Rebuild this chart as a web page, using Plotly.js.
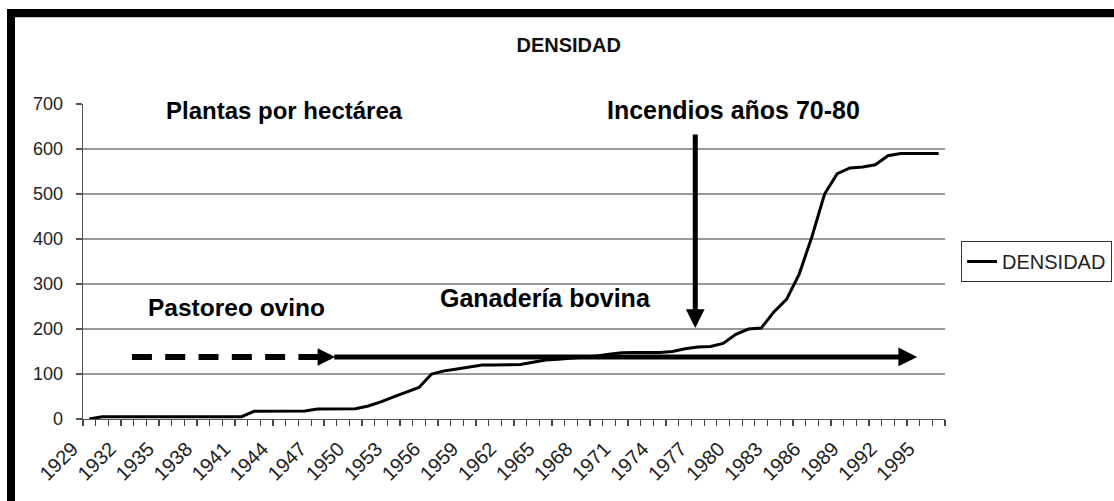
<!DOCTYPE html>
<html>
<head>
<meta charset="utf-8">
<script src="https://cdn.plot.ly/plotly-3.0.1.min.js"></script>
<style>
  html, body { margin: 0; padding: 0; background: #fff; }
  #wrap { position: relative; width: 1114px; height: 501px; overflow: hidden; }
  #chart { position: absolute; left: 0; top: 0; width: 1114px; height: 501px; }
  .band { position: absolute; background: #000; }
</style>
</head>
<body>
<div id="wrap">
  <div id="chart"></div>
  <div class="band" style="left:7px; top:9px; width:1107px; height:8px;"></div>
  <div class="band" style="left:7px; top:9px; width:8px; height:492px;"></div>
  <div style="position:absolute; left:15px; top:17px; width:1099px; height:1px; background:#ccc;"></div>
</div>
<script>
// ---- data ----
const years = [
  1929,1930,1931,1932,1933,1934,1935,1936,1937,1938,
  1939,1940,1941,1942,1943,1944,1945,1946,1947,1948,
  1949,1950,1951,1952,1953,1954,1955,1956,1957,1958,
  1959,1960,1961,1962,1963,1964,1965,1966,1967,1968,
  1969,1970,1971,1972,1973,1974,1975,1976,1977,1978,
  1979,1980,1981,1982,1983,1984,1985,1986,1987,1988,
  1989,1990,1991,1992,1993,1994,1995,1996
];
const densidad = [
  0,5,5,5,5,5,5,5,5,5,
  5,5,5,17,17,17,18,18,22,22,
  22,23,29,38,49,60,70,100,107,111,
  115,120,120,120,121,126,131,133,135,137,
  140,144,147,148,148,148,150,156,160,161,
  168,188,200,202,238,266,322,405,500,545,
  558,560,565,585,590,590,590,590
];
const seriesName = 'DENSIDAD';
const chartTitle = 'DENSIDAD';
const yTicks = [0,100,200,300,400,500,600,700];
const gridValues = [100,200,300,400,500,600];
const labels = {
  plantas: 'Plantas por hectárea',
  incendios: 'Incendios años 70-80',
  pastoreo: 'Pastoreo ovino',
  ganaderia: 'Ganadería bovina'
};

const FONT = '"Liberation Sans", Arial, sans-serif';

const trace = {
  type: 'scatter',
  mode: 'lines',
  x: years,
  y: densidad,
  name: seriesName,
  line: { color: '#000', width: 3 },
  hoverinfo: 'x+y'
};

const gridShapes = gridValues.map(v => ({
  type: 'line', xref: 'paper', yref: 'y',
  x0: 0, x1: 1, y0: v, y1: v,
  line: { color: '#777', width: 1.3 },
  layer: 'below'
}));

function boldText(t, size) {
  return { text: '<b>' + t + '</b>', showarrow: false,
           font: { family: FONT, size: size, color: '#000' } };
}

const layout = {
  width: 1114,
  height: 501,
  margin: { l: 83, r: 169, t: 104, b: 82, pad: 0, autoexpand: false },
  paper_bgcolor: 'rgba(0,0,0,0)',
  plot_bgcolor: '#fff',
  font: { family: FONT, color: '#111' },
  title: {
    text: '<b>' + chartTitle + '</b>',
    font: { family: FONT, size: 20, color: '#111' },
    xref: 'container', x: 0.5105, xanchor: 'center',
    yref: 'container', y: 0.91, yanchor: 'middle'
  },
  showlegend: true,
  legend: {
    x: 1.0186, xanchor: 'left',
    y: 0.5, yanchor: 'middle',
    bordercolor: '#333', borderwidth: 1,
    bgcolor: '#fff',
    font: { family: FONT, size: 20, color: '#222' }
  },
  xaxis: {
    type: 'linear',
    range: [1928.5, 1996.5],
    tickmode: 'linear', tick0: 1929, dtick: 3,
    ticks: '',
    tickangle: -45,
    ticklabelstandoff: 9,
    ticklabelshift: -17,
    tickfont: { family: FONT, size: 20, color: '#222' },
    showline: true, linecolor: '#555', linewidth: 1.3,
    showgrid: false, zeroline: false,
    minor: {
      tickmode: 'linear', tick0: 1928.5, dtick: 1,
      ticks: 'outside', ticklen: 6, tickcolor: '#444', tickwidth: 1.3,
      showgrid: false
    },
    fixedrange: true
  },
  yaxis: {
    range: [0, 700],
    tickmode: 'array', tickvals: yTicks,
    ticks: 'outside', ticklen: 6, tickcolor: '#555', tickwidth: 1.3,
    ticklabelstandoff: 9,
    tickfont: { family: FONT, size: 18, color: '#222' },
    showline: true, linecolor: '#555', linewidth: 1.3,
    showgrid: false, zeroline: false,
    fixedrange: true
  },
  shapes: gridShapes.concat([
    { type: 'line', xref: 'x', yref: 'y',
      x0: 1932.36, x1: 1947.3, y0: 138, y1: 138,
      line: { color: '#000', width: 6, dash: '20px,13.3px' } }
  ]),
  annotations: [
    Object.assign({ xref: 'paper', yref: 'paper', x: 0.2343, y: 0.9797, xanchor: 'center', yanchor: 'middle' }, boldText(labels.plantas, 24)),
    Object.assign({ xref: 'paper', yref: 'paper', x: 0.7552, y: 0.9797, xanchor: 'center', yanchor: 'middle' }, boldText(labels.incendios, 25)),
    Object.assign({ xref: 'paper', yref: 'paper', x: 0.1775, y: 0.3551, xanchor: 'center', yanchor: 'middle' }, boldText(labels.pastoreo, 24.5)),
    Object.assign({ xref: 'paper', yref: 'paper', x: 0.536, y: 0.3836, xanchor: 'center', yanchor: 'middle' }, boldText(labels.ganaderia, 25)),
    // vertical arrow (Incendios)
    { xref: 'x', yref: 'y', axref: 'x', ayref: 'y',
      x: 1976.8, y: 202, ax: 1976.8, ay: 635.6,
      text: '', showarrow: true, arrowhead: 2, arrowsize: 0.75, arrowwidth: 5, arrowcolor: '#000', standoff: 0 },
    // horizontal solid arrow (Ganadería bovina)
    { xref: 'x', yref: 'y', axref: 'x', ayref: 'y',
      x: 1994.3, y: 138, ax: 1948.2, ay: 138,
      text: '', showarrow: true, arrowhead: 2, arrowsize: 0.75, arrowwidth: 5, arrowcolor: '#000', standoff: 0 },
    // head of dashed arrow (Pastoreo ovino)
    { xref: 'x', yref: 'y', axref: 'x', ayref: 'y',
      x: 1948.39, y: 138, ax: 1946.9, ay: 138,
      text: '', showarrow: true, arrowhead: 2, arrowsize: 0.7, arrowwidth: 5, arrowcolor: '#000', standoff: 0 }
  ]
};

Plotly.newPlot('chart', [trace], layout, { displayModeBar: false, staticPlot: true });
</script>
</body>
</html>
